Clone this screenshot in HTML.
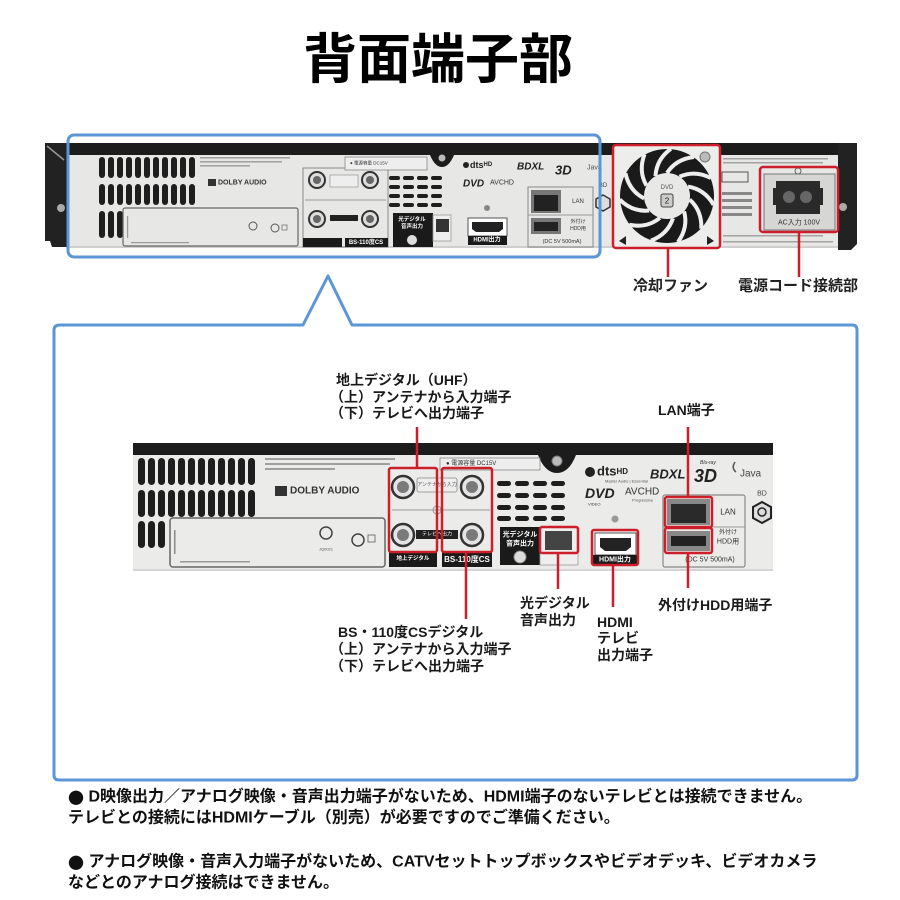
<!DOCTYPE html>
<html><head><meta charset="utf-8">
<style>
html,body{margin:0;padding:0;background:#fff;}
svg{display:block;}
text{font-family:"Liberation Sans","Noto Sans CJK JP",sans-serif;}
.lb{font-size:14px;font-weight:700;fill:#1a1a1a;}
.bt{font-size:16px;font-weight:700;fill:#111;}
.jp{font-family:"Noto Sans CJK JP",sans-serif;}
</style></head><body>
<svg width="900" height="900" viewBox="0 0 900 900" xmlns="http://www.w3.org/2000/svg">
<defs>
  <path id="blade" d="M0,-23 Q9,-37 27,-39" stroke="#eee" stroke-width="4" fill="none"/>
</defs>

<!-- Title -->
<text x="438" y="60" font-size="54" font-weight="700" text-anchor="middle" dominant-baseline="central" fill="#000">背面端子部</text>

<!-- ============ TOP DEVICE ============ -->
<rect x="45" y="143" width="812" height="13" fill="#1c1c1c"/>
<rect x="66" y="155" width="773" height="92" fill="#e7e7e5"/>
<rect x="66" y="246" width="773" height="2" fill="#cfcfcf"/>
<path d="M45,143 H68 V247 H52 L50,241 H45 Z" fill="#222"/>
<path d="M47,146 L64,160" stroke="#999" stroke-width="1.5"/>
<circle cx="61" cy="208" r="4" fill="#aaa"/>
<path d="M838,143 H857 V244 L851,250 H838 Z" fill="#222"/>
<circle cx="843" cy="207" r="4" fill="#aaa"/>
<path d="M430,155 Q435,167 442,167 Q449,167 454,155 Z" fill="#1c1c1c"/>
<circle cx="442" cy="158" r="3.5" fill="#bbb"/>
<g fill="#1e1e1e">
<rect x="99" y="157" width="6" height="21" rx="3"/><rect x="108" y="157" width="6" height="21" rx="3"/><rect x="117" y="157" width="6" height="21" rx="3"/><rect x="126" y="157" width="6" height="21" rx="3"/><rect x="135" y="157" width="6" height="21" rx="3"/><rect x="144" y="157" width="6" height="21" rx="3"/><rect x="153" y="157" width="6" height="21" rx="3"/><rect x="162" y="157" width="6" height="21" rx="3"/><rect x="171" y="157" width="6" height="21" rx="3"/><rect x="180" y="157" width="6" height="21" rx="3"/><rect x="189" y="157" width="6" height="21" rx="3"/>
<rect x="99" y="184" width="6" height="21" rx="3"/><rect x="108" y="184" width="6" height="21" rx="3"/><rect x="117" y="184" width="6" height="21" rx="3"/><rect x="126" y="184" width="6" height="21" rx="3"/><rect x="135" y="184" width="6" height="21" rx="3"/><rect x="144" y="184" width="6" height="21" rx="3"/><rect x="153" y="184" width="6" height="21" rx="3"/><rect x="162" y="184" width="6" height="21" rx="3"/><rect x="171" y="184" width="6" height="21" rx="3"/><rect x="180" y="184" width="6" height="21" rx="3"/><rect x="189" y="184" width="6" height="21" rx="3"/>
<rect x="99" y="211" width="6" height="27" rx="3"/><rect x="108" y="211" width="6" height="27" rx="3"/><rect x="117" y="211" width="6" height="27" rx="3"/>
</g>
<rect x="123" y="208" width="175" height="38" fill="none" stroke="#666" stroke-width="1.2" rx="2"/>
<rect x="127" y="216" width="1.2" height="22" fill="#999"/>
<rect x="131" y="242" width="58" height="1.2" fill="#999"/>
<circle cx="253" cy="226" r="4" fill="none" stroke="#555"/>
<circle cx="275" cy="228" r="4" fill="none" stroke="#555"/>
<rect x="282" y="225" width="5" height="5" fill="none" stroke="#777" stroke-width="0.8"/>
<g fill="#a3a3a3"><rect x="200" y="157" width="90" height="1.6"/><rect x="200" y="161" width="82" height="1.6"/><rect x="200" y="165" width="50" height="1.6"/></g>
<rect x="208" y="179" width="8" height="7" fill="#333"/>
<text x="218" y="183" font-size="7" font-weight="700" fill="#333" dominant-baseline="central">DOLBY AUDIO</text>
<rect x="303" y="168" width="85" height="79" fill="none" stroke="#888" stroke-width="1"/>
<rect x="345" y="157" width="82" height="13" fill="#eee" stroke="#888" stroke-width="0.8"/>
<text x="350" y="163" font-size="4.5" fill="#333" dominant-baseline="central">● 電源容量 DC15V</text>
<line x1="305" y1="200" x2="386" y2="200" stroke="#999"/>
<g stroke="#333" stroke-width="2" fill="#ddd">
<circle cx="317" cy="180" r="8"/><circle cx="370" cy="180" r="8"/><circle cx="317" cy="219" r="8"/><circle cx="370" cy="219" r="8"/>
</g>
<g fill="#666"><circle cx="317" cy="180" r="4"/><circle cx="370" cy="180" r="4"/><circle cx="317" cy="219" r="4"/><circle cx="370" cy="219" r="4"/></g>
<rect x="330" y="175" width="28" height="12" fill="#eee" stroke="#888" stroke-width="0.6"/>
<rect x="330" y="215" width="28" height="6" fill="#222"/>
<rect x="303" y="238" width="39" height="9" fill="#1a1a1a"/>
<rect x="345" y="238" width="43" height="9" fill="#1a1a1a"/>
<text x="366" y="243" font-size="6" font-weight="700" fill="#fff" text-anchor="middle" dominant-baseline="central">BS-110度CS</text>
<g fill="#1e1e1e">
<rect x="389" y="176" width="11" height="4" rx="2"/><rect x="403" y="176" width="11" height="4" rx="2"/><rect x="417" y="176" width="11" height="4" rx="2"/><rect x="431" y="176" width="11" height="4" rx="2"/>
<rect x="389" y="185" width="11" height="4" rx="2"/><rect x="403" y="185" width="11" height="4" rx="2"/><rect x="417" y="185" width="11" height="4" rx="2"/><rect x="431" y="185" width="11" height="4" rx="2"/>
<rect x="389" y="194" width="11" height="4" rx="2"/><rect x="403" y="194" width="11" height="4" rx="2"/><rect x="417" y="194" width="11" height="4" rx="2"/><rect x="431" y="194" width="11" height="4" rx="2"/>
<rect x="389" y="203" width="11" height="4" rx="2"/><rect x="403" y="203" width="11" height="4" rx="2"/><rect x="417" y="203" width="11" height="4" rx="2"/><rect x="431" y="203" width="11" height="4" rx="2"/>
</g>
<rect x="393" y="213" width="40" height="34" fill="#1a1a1a"/>
<text x="412" y="220" font-size="5.5" font-weight="700" fill="#fff" text-anchor="middle" dominant-baseline="central">光デジタル</text>
<text x="412" y="227" font-size="5.5" font-weight="700" fill="#fff" text-anchor="middle" dominant-baseline="central">音声出力</text>
<circle cx="412" cy="240" r="5" fill="#ddd"/>
<rect x="433" y="215" width="18" height="26" fill="#eee" stroke="#999" stroke-width="0.8"/>
<rect x="436" y="219" width="13" height="13" fill="#333"/>
<circle cx="466" cy="165" r="3" fill="#222"/>
<text x="470" y="165" font-size="9" font-weight="700" fill="#222" dominant-baseline="central">dts<tspan font-size="6">HD</tspan></text>
<text x="517" y="167" font-size="10" font-weight="700" font-style="italic" fill="#222" dominant-baseline="central">BDXL</text>
<text x="555" y="170" font-size="13" font-weight="700" font-style="italic" fill="#222" dominant-baseline="central">3D</text>
<text x="587" y="168" font-size="7" fill="#555" dominant-baseline="central">Java</text>
<text x="463" y="184" font-size="10" font-weight="700" font-style="italic" fill="#222" dominant-baseline="central">DVD</text>
<text x="490" y="183" font-size="7" fill="#333" dominant-baseline="central">AVCHD</text>
<circle cx="487" cy="208" r="3" fill="#888"/>
<rect x="468" y="218" width="39" height="18" fill="#fff" stroke="#555" stroke-width="1"/>
<path d="M472,222 H503 V229 L499,232 H476 L472,229 Z" fill="#222"/>
<rect x="468" y="236" width="39" height="9" fill="#1a1a1a"/>
<text x="487" y="240.5" font-size="6" font-weight="700" fill="#fff" text-anchor="middle" dominant-baseline="central">HDMI出力</text>
<rect x="528" y="187" width="65" height="60" fill="none" stroke="#888" stroke-width="1"/>
<line x1="528" y1="215" x2="593" y2="215" stroke="#999"/>
<rect x="531" y="190" width="30" height="23" fill="#777"/>
<rect x="534" y="195" width="24" height="16" fill="#222"/>
<text x="578" y="202" font-size="6" fill="#333" text-anchor="middle" dominant-baseline="central">LAN</text>
<rect x="531" y="218" width="30" height="16" fill="#777"/>
<rect x="534" y="222" width="24" height="9" fill="#222"/>
<text x="578" y="222" font-size="5" fill="#333" text-anchor="middle" dominant-baseline="central">外付け</text>
<text x="578" y="229" font-size="5" fill="#333" text-anchor="middle" dominant-baseline="central">HDD用</text>
<text x="562" y="242" font-size="5.5" fill="#333" text-anchor="middle" dominant-baseline="central">(DC 5V 500mA)</text>
<text x="603" y="186" font-size="6" fill="#444" text-anchor="middle" dominant-baseline="central">BD</text>
<path d="M603,195 L610,199 V207 L603,211 L596,207 V199 Z" fill="#ddd" stroke="#333" stroke-width="1.5"/>
<rect x="613" y="145" width="107" height="103" fill="#ededeb"/>
<circle cx="667" cy="196" r="47" fill="#1a1a1a"/>
<g transform="translate(667,196)">
<use href="#blade" transform="rotate(0)"/><use href="#blade" transform="rotate(33)"/><use href="#blade" transform="rotate(66)"/><use href="#blade" transform="rotate(99)"/><use href="#blade" transform="rotate(132)"/><use href="#blade" transform="rotate(165)"/><use href="#blade" transform="rotate(198)"/><use href="#blade" transform="rotate(231)"/><use href="#blade" transform="rotate(264)"/><use href="#blade" transform="rotate(297)"/><use href="#blade" transform="rotate(330)"/>
</g>
<circle cx="667" cy="196" r="23" fill="#e8e8e6"/>
<text x="667" y="188" font-size="6" fill="#555" text-anchor="middle" dominant-baseline="central">DVD</text>
<rect x="661" y="194" width="12" height="13" rx="2" fill="#ccc" stroke="#444" stroke-width="1"/>
<text x="667" y="201" font-size="8" fill="#222" text-anchor="middle" dominant-baseline="central">2</text>
<circle cx="705" cy="157" r="5" fill="#bbb" stroke="#777"/>
<path d="M619,241 L626,236 V245 Z" fill="#222"/>
<path d="M714,241 L707,236 V245 Z" fill="#222"/>
<rect x="613" y="145" width="107" height="103" rx="3" fill="none" stroke="#cc1f2a" stroke-width="2.5"/>
<g fill="#a3a3a3"><rect x="723" y="158" width="105" height="1.5"/><rect x="723" y="162" width="100" height="1.5"/><rect x="723" y="235" width="100" height="1.5"/><rect x="723" y="241" width="110" height="1.5"/></g>
<rect x="722" y="172" width="26" height="10" fill="none" stroke="#555" stroke-width="1"/>
<g fill="#888"><rect x="722" y="192" width="30" height="3"/><rect x="722" y="199" width="30" height="3"/><rect x="722" y="206" width="30" height="3"/><rect x="722" y="213" width="30" height="3"/></g>
<rect x="764" y="174" width="71" height="56" fill="#d6d6d4" stroke="#777" stroke-width="1"/>
<path d="M776,181 H820 V188 H823 V205 H820 V214 H776 V205 H773 V188 H776 Z" fill="#2a2a2a"/>
<circle cx="789" cy="197" r="6" fill="#666"/>
<circle cx="806" cy="197" r="6" fill="#666"/>
<circle cx="798" cy="171" r="3" fill="none" stroke="#666"/>
<text x="799" y="223" font-size="7" fill="#333" text-anchor="middle" dominant-baseline="central">AC入力 100V</text>
<rect x="760" y="167" width="78" height="65" rx="3" fill="none" stroke="#cc1f2a" stroke-width="2.5"/>
<line x1="668" y1="248" x2="668" y2="277" stroke="#cc1f2a" stroke-width="2.5"/>
<line x1="799" y1="232" x2="799" y2="277" stroke="#cc1f2a" stroke-width="2.5"/>
<text x="633" y="286" font-size="15" font-weight="700" fill="#222" dominant-baseline="central">冷却ファン</text>
<text x="738" y="286" font-size="15" font-weight="700" fill="#222" dominant-baseline="central">電源コード接続部</text>

<rect x="68" y="135" width="532" height="122" rx="6" fill="none" stroke="#5b96d6" stroke-width="3"/>

<path d="M60,325 H303 L328,276 L352,325 H852 Q857,325 857,330 V775 Q857,780 852,780 H59 Q54,780 54,775 V330 Q54,325 60,325 Z" fill="none" stroke="#5b96d6" stroke-width="3" stroke-linejoin="round"/>

<!-- ============ MAGNIFIED DEVICE ============ -->
<rect x="133" y="443" width="640" height="12" fill="#1c1c1c"/>
<rect x="133" y="455" width="640" height="115" fill="#ebebe9"/>
<rect x="133" y="569" width="640" height="2" fill="#d5d5d5"/>
<path d="M538,455 Q545,473 557,473 Q569,473 576,455 Z" fill="#1c1c1c"/>
<circle cx="557" cy="461" r="5" fill="#bbb" stroke="#777"/>
<g fill="#1e1e1e">
<rect x="138" y="458" width="7" height="27" rx="3.5"/><rect x="148" y="458" width="7" height="27" rx="3.5"/><rect x="158" y="458" width="7" height="27" rx="3.5"/><rect x="168" y="458" width="7" height="27" rx="3.5"/><rect x="178" y="458" width="7" height="27" rx="3.5"/><rect x="188" y="458" width="7" height="27" rx="3.5"/><rect x="198" y="458" width="7" height="27" rx="3.5"/><rect x="208" y="458" width="7" height="27" rx="3.5"/><rect x="218" y="458" width="7" height="27" rx="3.5"/><rect x="228" y="458" width="7" height="27" rx="3.5"/><rect x="238" y="458" width="7" height="27" rx="3.5"/><rect x="248" y="458" width="7" height="27" rx="3.5"/>
<rect x="138" y="490" width="7" height="27" rx="3.5"/><rect x="148" y="490" width="7" height="27" rx="3.5"/><rect x="158" y="490" width="7" height="27" rx="3.5"/><rect x="168" y="490" width="7" height="27" rx="3.5"/><rect x="178" y="490" width="7" height="27" rx="3.5"/><rect x="188" y="490" width="7" height="27" rx="3.5"/><rect x="198" y="490" width="7" height="27" rx="3.5"/><rect x="208" y="490" width="7" height="27" rx="3.5"/><rect x="218" y="490" width="7" height="27" rx="3.5"/><rect x="228" y="490" width="7" height="27" rx="3.5"/><rect x="238" y="490" width="7" height="27" rx="3.5"/><rect x="248" y="490" width="7" height="27" rx="3.5"/>
<rect x="138" y="521" width="7" height="27" rx="3.5"/><rect x="148" y="521" width="7" height="27" rx="3.5"/><rect x="158" y="521" width="7" height="27" rx="3.5"/>
</g>
<rect x="170" y="518" width="215" height="49" rx="3" fill="none" stroke="#666" stroke-width="1.5"/>
<rect x="174" y="530" width="1.5" height="24" fill="#888"/>
<rect x="180" y="561" width="70" height="1.5" fill="#999"/>
<circle cx="326" cy="533" r="6" fill="none" stroke="#444" stroke-width="1.5"/>
<text x="326" y="549" font-size="4" fill="#555" text-anchor="middle" dominant-baseline="central">JQ0021</text>
<circle cx="358" cy="540" r="6" fill="none" stroke="#444" stroke-width="1.5"/>
<rect x="368" y="535" width="7" height="7" fill="none" stroke="#777"/>
<g fill="#a0a0a0"><rect x="265" y="458" width="130" height="2"/><rect x="265" y="463" width="125" height="2"/><rect x="265" y="468" width="70" height="2"/></g>
<rect x="275" y="486" width="12" height="10" fill="#333"/>
<text x="290" y="491" font-size="10" font-weight="700" fill="#333" dominant-baseline="central">DOLBY AUDIO</text>
<rect x="440" y="458" width="100" height="12" fill="#eee" stroke="#888" stroke-width="0.8"/>
<text x="446" y="464" font-size="6" fill="#333" dominant-baseline="central">● 電源容量 DC15V</text>
<line x1="392" y1="510" x2="490" y2="510" stroke="#999"/>
<circle cx="437" cy="510" r="4" fill="none" stroke="#999"/>
<g stroke="#333" stroke-width="2.5" fill="#e4e4e4">
<circle cx="403" cy="487" r="11"/><circle cx="472" cy="487" r="11"/><circle cx="403" cy="535" r="11"/><circle cx="472" cy="535" r="11"/>
</g>
<g fill="#7a7a7a"><circle cx="403" cy="487" r="6"/><circle cx="472" cy="487" r="6"/><circle cx="403" cy="535" r="6"/><circle cx="472" cy="535" r="6"/></g>
<rect x="417" y="478" width="40" height="14" rx="2" fill="#eee" stroke="#888" stroke-width="0.8"/>
<text x="437" y="485" font-size="5" fill="#555" text-anchor="middle" dominant-baseline="central">アンテナから入力</text>
<rect x="416" y="530" width="42" height="9" fill="#222"/>
<text x="437" y="534.5" font-size="5" fill="#fff" text-anchor="middle" dominant-baseline="central">テレビへ出力</text>
<rect x="389" y="552" width="48" height="15" fill="#1a1a1a"/>
<text x="413" y="559" font-size="5.5" font-weight="700" fill="#fff" text-anchor="middle" dominant-baseline="central">地上デジタル</text>
<rect x="442" y="552" width="50" height="15" fill="#1a1a1a"/>
<text x="467" y="559.5" font-size="8" font-weight="700" fill="#fff" text-anchor="middle" dominant-baseline="central">BS-110度CS</text>
<rect x="389" y="468" width="48" height="84" rx="2" fill="none" stroke="#cc1f2a" stroke-width="2.5"/>
<rect x="442" y="468" width="50" height="84" rx="2" fill="none" stroke="#cc1f2a" stroke-width="2.5"/>
<g fill="#1e1e1e">
<rect x="497" y="481" width="14" height="5" rx="2.5"/><rect x="515" y="481" width="14" height="5" rx="2.5"/><rect x="533" y="481" width="14" height="5" rx="2.5"/><rect x="551" y="481" width="14" height="5" rx="2.5"/>
<rect x="497" y="493" width="14" height="5" rx="2.5"/><rect x="515" y="493" width="14" height="5" rx="2.5"/><rect x="533" y="493" width="14" height="5" rx="2.5"/><rect x="551" y="493" width="14" height="5" rx="2.5"/>
<rect x="497" y="505" width="14" height="5" rx="2.5"/><rect x="515" y="505" width="14" height="5" rx="2.5"/><rect x="533" y="505" width="14" height="5" rx="2.5"/><rect x="551" y="505" width="14" height="5" rx="2.5"/>
<rect x="497" y="516" width="14" height="5" rx="2.5"/><rect x="515" y="516" width="14" height="5" rx="2.5"/><rect x="533" y="516" width="14" height="5" rx="2.5"/><rect x="551" y="516" width="14" height="5" rx="2.5"/>
</g>
<rect x="500" y="527" width="42" height="38" fill="#1a1a1a"/>
<text x="520" y="535" font-size="7" font-weight="700" fill="#fff" text-anchor="middle" dominant-baseline="central">光デジタル</text>
<text x="520" y="544" font-size="7" font-weight="700" fill="#fff" text-anchor="middle" dominant-baseline="central">音声出力</text>
<circle cx="520" cy="557" r="6" fill="#ddd" stroke="#888"/>
<rect x="540" y="527" width="38" height="38" fill="#eee" stroke="#999" stroke-width="0.8"/>
<rect x="545" y="531" width="27" height="19" fill="#444"/>
<rect x="540" y="527" width="38" height="26" rx="2" fill="none" stroke="#cc1f2a" stroke-width="2.5"/>
<circle cx="590" cy="472" r="5" fill="#222"/>
<text x="597" y="471" font-size="13" font-weight="700" fill="#222" dominant-baseline="central">dts<tspan font-size="8">HD</tspan></text>
<text x="605" y="481" font-size="4" fill="#555" dominant-baseline="central">Master Audio | Essential</text>
<text x="650" y="474" font-size="13" font-weight="700" font-style="italic" fill="#222" dominant-baseline="central">BDXL</text>
<text x="700" y="463" font-size="5" font-style="italic" fill="#333" dominant-baseline="central">Blu-ray</text>
<text x="694" y="476" font-size="18" font-weight="700" font-style="italic" fill="#222" dominant-baseline="central">3D</text>
<path d="M735,462 Q731,468 736,472" stroke="#555" stroke-width="1.5" fill="none"/>
<text x="740" y="474" font-size="10" fill="#444" dominant-baseline="central">Java</text>
<text x="585" y="493" font-size="14" font-weight="700" font-style="italic" fill="#222" dominant-baseline="central">DVD</text>
<text x="588" y="504" font-size="4" fill="#333" dominant-baseline="central">VIDEO</text>
<text x="625" y="492" font-size="10" fill="#333" dominant-baseline="central">AVCHD</text>
<text x="632" y="500" font-size="4" fill="#555" dominant-baseline="central">Progressive</text>
<circle cx="615" cy="519" r="3.5" fill="#999"/>
<rect x="595" y="533" width="41" height="22" fill="#fff" stroke="#555" stroke-width="1"/>
<path d="M600,538 H631 V547 L626,551 H605 L600,547 Z" fill="#222"/>
<rect x="592" y="555" width="46" height="10" fill="#1a1a1a"/>
<text x="615" y="560" font-size="7" font-weight="700" fill="#fff" text-anchor="middle" dominant-baseline="central">HDMI出力</text>
<rect x="592" y="530" width="46" height="35" rx="2" fill="none" stroke="#cc1f2a" stroke-width="2.5"/>
<rect x="663" y="495" width="82" height="72" rx="2" fill="none" stroke="#888" stroke-width="1.2"/>
<line x1="663" y1="527" x2="745" y2="527" stroke="#999"/>
<rect x="667" y="499" width="43" height="26" fill="#888"/>
<rect x="671" y="504" width="35" height="19" fill="#2a2a2a"/>
<text x="728" y="512" font-size="8" fill="#333" text-anchor="middle" dominant-baseline="central">LAN</text>
<rect x="667" y="531" width="43" height="20" fill="#888"/>
<rect x="671" y="536" width="35" height="10" fill="#222"/>
<text x="728" y="533" font-size="6" fill="#333" text-anchor="middle" dominant-baseline="central">外付け</text>
<text x="728" y="542" font-size="7" fill="#333" text-anchor="middle" dominant-baseline="central">HDD用</text>
<text x="710" y="560" font-size="7" fill="#333" text-anchor="middle" dominant-baseline="central">(DC 5V 500mA)</text>
<rect x="665" y="497" width="47" height="30" rx="2" fill="none" stroke="#cc1f2a" stroke-width="2.5"/>
<rect x="665" y="528" width="47" height="25" rx="2" fill="none" stroke="#cc1f2a" stroke-width="2.5"/>
<text x="762" y="494" font-size="7" fill="#444" text-anchor="middle" dominant-baseline="central">BD</text>
<path d="M762,502 L771,507 V518 L762,523 L753,518 V507 Z" fill="#ddd" stroke="#222" stroke-width="2"/>
<circle cx="762" cy="512" r="4" fill="none" stroke="#222" stroke-width="1.5"/>

<g stroke="#cc1f2a" stroke-width="2.5">
<line x1="417" y1="427" x2="417" y2="468"/>
<line x1="688" y1="427" x2="688" y2="497"/>
<line x1="466" y1="552" x2="466" y2="619"/>
<line x1="558" y1="553" x2="558" y2="589"/>
<line x1="613" y1="565" x2="613" y2="607"/>
<line x1="688" y1="553" x2="688" y2="588"/>
</g>

<text class="lb" x="336" y="380" dominant-baseline="central">地上デジタル（UHF）</text>
<text class="lb" x="330" y="397" dominant-baseline="central">（上）アンテナから入力端子</text>
<text class="lb" x="330" y="413" dominant-baseline="central">（下）テレビへ出力端子</text>
<text class="lb" x="658" y="410" dominant-baseline="central">LAN端子</text>
<text class="lb" x="338" y="632" dominant-baseline="central">BS・110度CSデジタル</text>
<text class="lb" x="330" y="649" dominant-baseline="central">（上）アンテナから入力端子</text>
<text class="lb" x="330" y="666" dominant-baseline="central">（下）テレビへ出力端子</text>
<text class="lb" x="520" y="603" dominant-baseline="central">光デジタル</text>
<text class="lb" x="520" y="620" dominant-baseline="central">音声出力</text>
<text class="lb" x="597" y="622" dominant-baseline="central">HDMI</text>
<text class="lb" x="597" y="638" dominant-baseline="central">テレビ</text>
<text class="lb" x="597" y="655" dominant-baseline="central">出力端子</text>
<text class="lb" x="658" y="605" dominant-baseline="central">外付けHDD用端子</text>

<text class="bt" x="68" y="797" dominant-baseline="central"><tspan class="jp">●</tspan> D映像出力／アナログ映像・音声出力端子がないため、HDMI端子のないテレビとは接続できません。</text>
<text class="bt" x="68" y="818" dominant-baseline="central">テレビとの接続にはHDMIケーブル（別売）が必要ですのでご準備ください。</text>
<text class="bt" x="68" y="862" dominant-baseline="central"><tspan class="jp">●</tspan> アナログ映像・音声入力端子がないため、CATVセットトップボックスやビデオデッキ、ビデオカメラ</text>
<text class="bt" x="68" y="883" dominant-baseline="central">などとのアナログ接続はできません。</text>
</svg>
</body></html>
